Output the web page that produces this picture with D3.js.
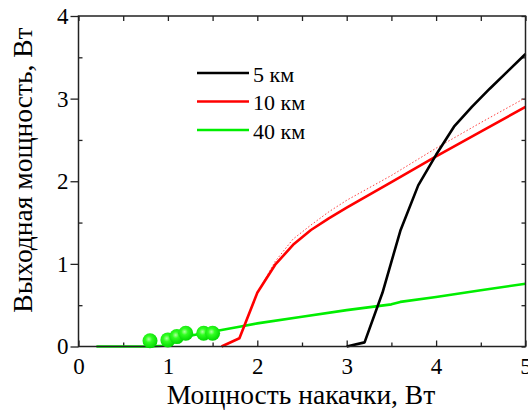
<!DOCTYPE html>
<html>
<head>
<meta charset="utf-8">
<script src="https://cdn.jsdelivr.net/npm/d3@7"></script>
<style>
  body { margin: 0; background: #fff; }
  svg { display: block; }
</style>
</head>
<body>
<svg id="chart" width="528" height="412" font-family="Liberation Serif"></svg>
<script>
// data (pump power, W -> output power, W)
var x5 = [3.0, 3.2, 3.4, 3.6, 3.8, 4.0, 4.2, 4.4, 4.6, 4.8, 5.0];
var y5 = [0, 0.05, 0.65, 1.4, 1.95, 2.32, 2.66, 2.9, 3.12, 3.33, 3.54];

var x10 = [1.6, 1.8, 2.0, 2.2, 2.4, 2.6, 2.8, 3.0, 3.5, 4.0, 4.5, 5.0];
var y10 = [0, 0.1, 0.65, 0.99, 1.23, 1.41, 1.55, 1.68, 1.99, 2.3, 2.6, 2.9];

var x10d = [2.0, 2.2, 2.4, 2.6, 2.8, 3.0, 3.5, 4.0, 4.5, 5.0];
var y10d = [0.65, 1.03, 1.3, 1.47, 1.63, 1.77, 2.07, 2.4, 2.71, 3.01];

var x40 = [0.2, 0.4, 0.6, 0.8, 0.95, 1.0, 1.2, 1.4, 1.6, 1.8, 2.0, 2.5, 3.0, 3.5, 3.6, 4.0, 4.5, 5.0];
var y40 = [0, 0, 0, 0, 0.01, 0.05, 0.12, 0.16, 0.2, 0.24, 0.28, 0.36, 0.44, 0.51, 0.54, 0.6, 0.68, 0.76];

var xExp = [0.8, 1.0, 1.1, 1.2, 1.4, 1.5];
var yExp = [0.07, 0.08, 0.12, 0.16, 0.16, 0.16];

var legendLabels = ["5 км", "10 км", "40 км"];
var legendColors = ["#000000", "#ff0000", "#00ee00"];

var xMajor = [0, 1, 2, 3, 4, 5];
var xMinor = [0.5, 1.5, 2.5, 3.5, 4.5];
var yMajor = [0, 1, 2, 3, 4];
var yMinor = [0.5, 1.5, 2.5, 3.5];

var FONT = "Liberation Serif";

var svg = d3.select("#chart");
var L = 78.5, R = 525.5, T = 16, B = 346.5;

var x = d3.scaleLinear().domain([0, 5]).range([L, R]);
var y = d3.scaleLinear().domain([0, 4]).range([B, T]);

function styleAxis(g) {
    g.attr("font-family", FONT).attr("font-size", 23);
    g.select(".domain").remove();
    g.selectAll(".tick line").attr("stroke", "#222").attr("stroke-width", 1.3);
    g.selectAll(".tick text").attr("fill", "#000");
}

// bottom
svg.append("g").attr("transform", "translate(0," + B + ")")
    .call(d3.axisBottom(x).tickValues(xMajor).tickSize(-6).tickPadding(9).tickFormat(d3.format("d")))
    .call(styleAxis)
    .selectAll("text").attr("dy", "0.8em");
svg.append("g").attr("transform", "translate(0," + B + ")")
    .call(d3.axisBottom(x).tickValues(xMinor).tickSize(-4).tickFormat(""))
    .call(styleAxis);
// top
svg.append("g").attr("transform", "translate(0," + T + ")")
    .call(d3.axisTop(x).tickValues(xMajor.concat(xMinor)).tickSize(-5).tickFormat(""))
    .call(styleAxis);
// left
svg.append("g").attr("transform", "translate(" + L + ",0)")
    .call(d3.axisLeft(y).tickValues(yMajor).tickSize(8).tickPadding(2).tickFormat(d3.format("d")))
    .call(styleAxis);
svg.append("g").attr("transform", "translate(" + L + ",0)")
    .call(d3.axisLeft(y).tickValues(yMinor).tickSize(-4).tickFormat(""))
    .call(styleAxis);
// right
svg.append("g").attr("transform", "translate(" + R + ",0)")
    .call(d3.axisRight(y).tickValues(yMajor.concat(yMinor)).tickSize(-4).tickFormat(""))
    .call(styleAxis);

// gradient for experimental points
var defs = svg.append("defs");
var grad = defs.append("radialGradient").attr("id", "ball").attr("cx", "42%").attr("cy", "40%").attr("r", "62%");
grad.append("stop").attr("offset", "0%").attr("stop-color", "#b0ffa0");
grad.append("stop").attr("offset", "35%").attr("stop-color", "#30ff20");
grad.append("stop").attr("offset", "100%").attr("stop-color", "#00d400");

var line = d3.line().x(function(d) { return x(d[0]); }).y(function(d) { return y(d[1]); });

function draw(xs, ys, color, w, dash) {
    var p = svg.append("path").datum(d3.zip(xs, ys))
        .attr("d", line).attr("fill", "none")
        .attr("stroke", color).attr("stroke-width", w)
        .attr("stroke-linejoin", "round");
    if (dash) p.attr("stroke-dasharray", dash);
}

draw(x40, y40, "#00ee00", 2.6);
draw(x10d, y10d, "#ff4040", 1, "1.5,2");
draw(x10, y10, "#ff0000", 2.6);
draw(x5, y5, "#000000", 2.6);

// frame
svg.append("rect").attr("x", L).attr("y", T).attr("width", R - L).attr("height", B - T)
    .attr("fill", "none").attr("stroke", "#222").attr("stroke-width", 1.5);

svg.selectAll("circle.exp").data(d3.zip(xExp, yExp)).enter().append("circle")
    .attr("class", "exp")
    .attr("cx", function(d) { return x(d[0]); })
    .attr("cy", function(d) { return y(d[1]); })
    .attr("r", 7.5)
    .attr("fill", "url(#ball)");

// legend
var lg = svg.append("g");
legendLabels.forEach(function(t, i) {
    var yy = 73 + i * 28.5;
    lg.append("line").attr("x1", 197).attr("x2", 249).attr("y1", yy).attr("y2", yy)
        .attr("stroke", legendColors[i]).attr("stroke-width", 2.6);
    lg.append("text").attr("x", 253).attr("y", yy + 8.5)
        .attr("font-family", FONT).attr("font-size", 22).text(t);
});

// axis titles
svg.append("text").attr("x", 301).attr("y", 404).attr("text-anchor", "middle")
    .attr("font-family", FONT).attr("font-size", 27.5).text("Мощность накачки, Вт");
svg.append("text").attr("transform", "translate(32,170) rotate(-90)").attr("text-anchor", "middle")
    .attr("font-family", FONT).attr("font-size", 27.5).text("Выходная мощность, Вт");
</script>
</body>
</html>
